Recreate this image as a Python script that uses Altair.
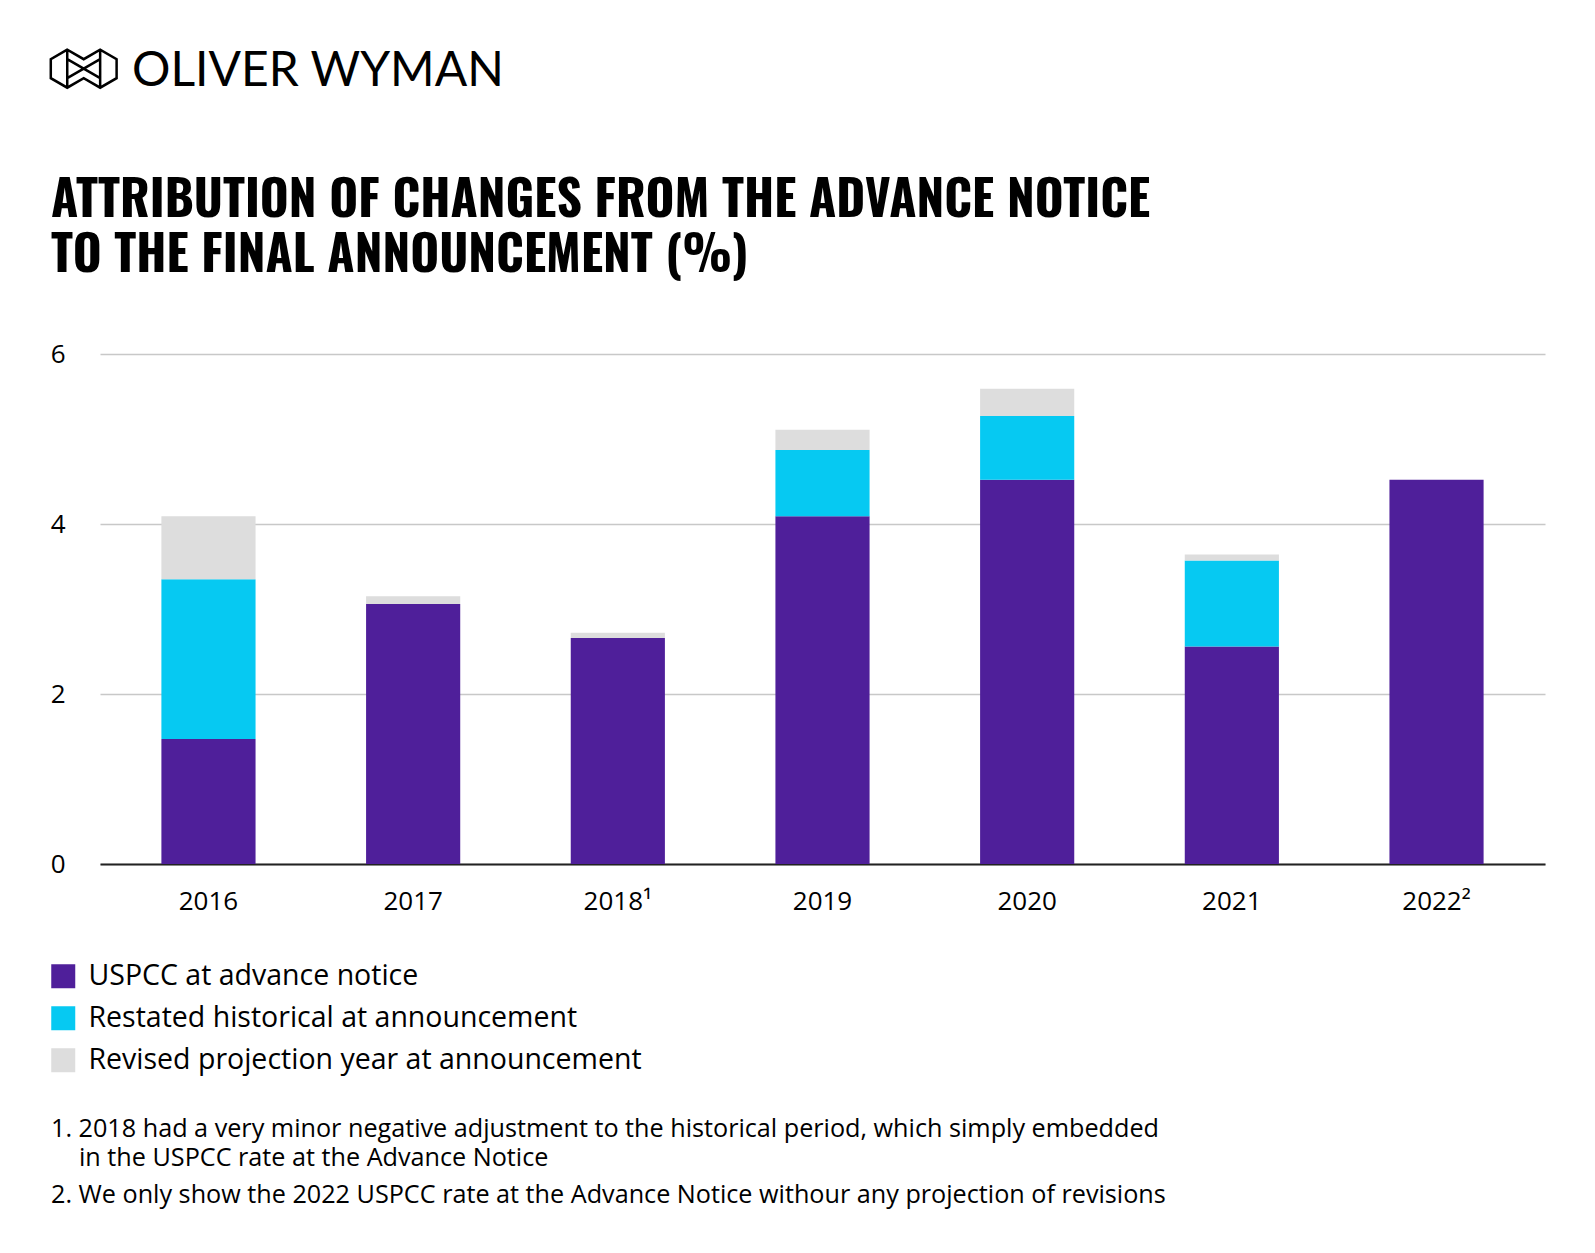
import altair as alt
import pandas as pd

# ---------------- data ----------------
years = ["2016", "2017", "2018\u00b9", "2019", "2020", "2021", "2022\u00b2"]
series = [
    "USPCC at advance notice",
    "Restated historical at announcement",
    "Revised projection year at announcement",
]
uspcc = [1.47, 3.06, 2.66, 4.09, 4.52, 2.56, 4.52]
restated = [1.88, 0.0, 0.0, 0.78, 0.75, 1.01, 0.0]
revised = [0.74, 0.09, 0.06, 0.24, 0.32, 0.07, 0.0]
y_ticks = [0, 2, 4, 6]

colors = ["#4F1F9A", "#06C9F2", "#DDDDDD"]

title_lines = [
    "ATTRIBUTION OF CHANGES FROM THE ADVANCE NOTICE",
    "TO THE FINAL ANNOUNCEMENT (%)",
]
brand = "OLIVER WYMAN"
note1a = "1. 2018 had a very minor negative adjustment to the historical period, which simply embedded"
note1b = "in the USPCC rate at the Advance Notice"
note2 = "2. We only show the 2022 USPCC rate at the Advance Notice withour any projection of revisions"

rows = []
for i, yr in enumerate(years):
    for k, (s, vals) in enumerate(zip(series, [uspcc, restated, revised])):
        if vals[i] > 0:
            rows.append({"year": yr, "series": s, "value": vals[i], "order": k})
df = pd.DataFrame(rows)

FONT = "Open Sans"
TITLE_FONT = ("Oswald, 'Roboto Condensed', 'Open Sans Condensed', 'Noto Sans Condensed', "
              "'Liberation Sans Narrow', 'DejaVu Sans Condensed', sans-serif")

bars = alt.Chart(df).mark_bar().encode(
    x=alt.X(
        "year:N",
        sort=years,
        scale=alt.Scale(paddingInner=0.54, paddingOuter=0.3),
        axis=alt.Axis(
            title=None, labelAngle=0, labelFontSize=26, labelFont=FONT,
            labelColor="#000000", labelPadding=24, ticks=False,
            domainColor="#222222", domainWidth=2, grid=False,
        ),
    ),
    y=alt.Y(
        "value:Q",
        stack="zero",
        scale=alt.Scale(domain=[0, 6], nice=False),
        axis=alt.Axis(
            title=None, values=y_ticks, labelFontSize=26, labelFont=FONT,
            labelColor="#000000", labelPadding=35, ticks=False, domain=False,
            gridColor="#c8c8c8", gridWidth=1.5,
        ),
    ),
    color=alt.Color(
        "series:N",
        scale=alt.Scale(domain=series, range=colors),
        legend=alt.Legend(
            title=None, orient="none", legendX=-51, legendY=608,
            direction="vertical", symbolType="square", symbolSize=576,
            symbolStrokeWidth=0, labelFontSize=28.5, labelFont=FONT,
            labelColor="#000000", rowPadding=13, labelOffset=11, labelLimit=0,
        ),
    ),
    order=alt.Order("order:Q", sort="ascending"),
)


def txt(text, x, y, size, font=FONT, weight="normal"):
    return alt.Chart(pd.DataFrame({"t": [text]})).mark_text(
        align="left", baseline="alphabetic", fontSize=size, font=font,
        fontWeight=weight, color="#000000",
    ).encode(x=alt.value(x), y=alt.value(y), text="t:N")


icon_path = (
    "M-0.866,-1 L-1.732,-0.5 L-1.732,0.5 L-0.866,1 L0,0.5 L0.866,1 "
    "L1.732,0.5 L1.732,-0.5 L0.866,-1 L0,-0.5 Z "
    "M-0.866,-1 L-0.866,1 M0.866,-1 L0.866,1 "
    "M-0.866,-0.5 L0.866,0.5 M-0.866,0.5 L0.866,-0.5"
)
icon = alt.Chart(pd.DataFrame({"k": [0]})).mark_point(
    shape=icon_path, size=1444, filled=False, strokeWidth=2.5, color="#000000",
    opacity=1,
).encode(x=alt.value(-16.3), y=alt.value(-285.3))

layers = [
    bars,
    icon,
    txt(brand, 32, -268, 48, font="Lato"),
    txt(title_lines[0], -49, -137, 49.5, font=TITLE_FONT, weight="bold"),
    txt(title_lines[1], -49, -82, 49.5, font=TITLE_FONT, weight="bold"),
    txt(note1a, -49, 783, 25.2),
    txt(note1b, -21, 812, 25.2),
    txt(note2, -49, 849, 25.2),
]

chart = alt.layer(*layers).properties(
    width=1445,
    height=510,
    padding={"left": 92, "top": 346, "right": 34, "bottom": 366},
    autosize=alt.AutoSizeParams(type="none"),
).configure_view(stroke=None)

chart.save("out.html", embed_options={"renderer": "svg", "actions": False})
